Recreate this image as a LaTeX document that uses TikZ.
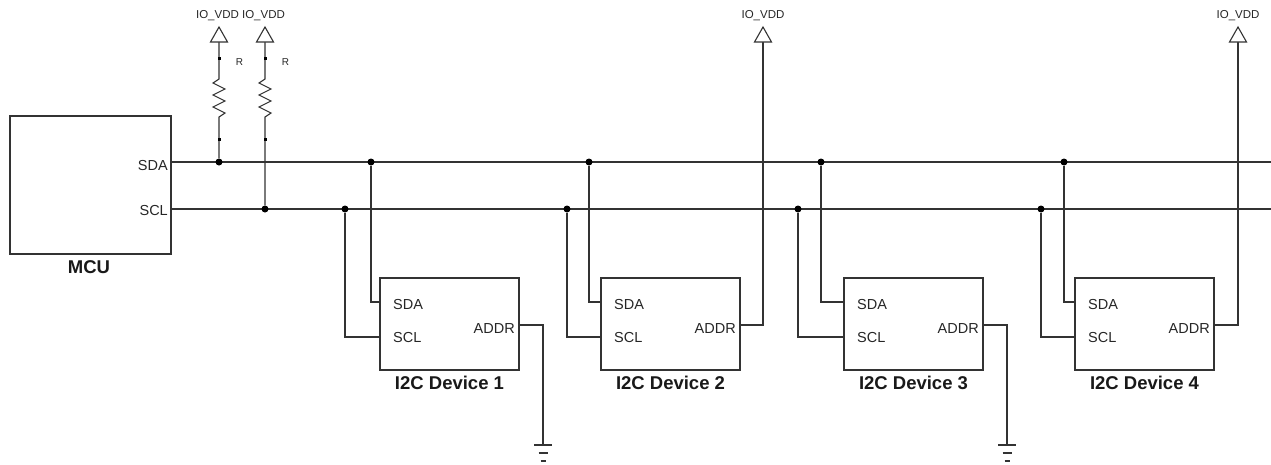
\documentclass[tikz,border=0pt]{standalone}
\usepackage{fontspec}
\setmainfont{Liberation Sans}
\begin{document}
\begin{tikzpicture}[x=1pt,y=-1pt,
  wire/.style={line width=1.1pt, draw=black!80},
  jdot/.style={circle, fill=black, inner sep=0pt, minimum size=7pt},
  pdot/.style={rectangle, fill=black, inner sep=0pt, minimum size=3pt},
  box/.style={draw=black!80, line width=1.1pt, rectangle, inner sep=0pt},
  pinlab/.style={font=\fontsize{14.5}{15}\selectfont, inner sep=0pt, text=black!85},
  titlelab/.style={font=\fontsize{18.5}{19}\selectfont\bfseries, inner sep=0pt, text=black!90},
  vddlab/.style={font=\fontsize{11.5}{12}\selectfont, inner sep=0pt, text=black!85},
  rlab/.style={font=\fontsize{10}{10}\selectfont, inner sep=0pt, text=black!85},
  gndline/.style={line width=1.1pt, draw=black!80}
]
\useasboundingbox (0,0) rectangle (1271,464);

% MCU
\node[box, minimum width=161pt, minimum height=138pt] (mcu) at (90.5,185) {};
\node[titlelab] (mculab) at (89,267) {MCU};
\coordinate (mcusda) at (171,162);
\coordinate (mcuscl) at (171,209);
\node[pinlab, anchor=east] (mcusdal) at (168,166) {SDA};
\node[pinlab, anchor=east] (mcuscll) at (168,210.5) {SCL};

% bus
\coordinate (sdaend) at (1271,162);
\coordinate (sclend) at (1271,209);
\draw[wire] (mcusda) -- (sdaend);
\draw[wire] (mcuscl) -- (sclend);

% pull-up resistors
\foreach \n/\x/\y in {a/219/162, b/265/209}{
  \coordinate (vdd\n) at (\x,42);
  \coordinate (rt\n) at (\x,79);
  \coordinate (rb\n) at (\x,117);
  \node[jdot] (pj\n) at (\x,\y) {};
  \draw[wire] (vdd\n) -- (rt\n)
     -- ++(-6,4) -- ++(12,6) -- ++(-12,6) -- ++(12,6) -- ++(-12,6) -- ++(12,6) -- (rb\n)
     -- (pj\n);
  \draw[wire, fill=white] (\x,27) -- (\x-8.5,42) -- (\x+8.5,42) -- cycle;
  \node[vddlab] (vddl\n) at (\x-1.5,16) {IO\_VDD};
  \node[pdot] (pt\n) at (\x,58) {};
  \node[pdot] (pb\n) at (\x,139) {};
  \node[rlab] (rl\n) at (\x+20.5,62) {R};
}

% devices
\foreach \i/\L/\sa/\sc/\ad/\g in {1/380/371/345/543/1, 2/601/589/567/763/0, 3/844/821/798/1007/1, 4/1075/1064/1041/1238/0}{
  \node[box, minimum width=139pt, minimum height=92pt] (d\i) at (\L+69.5,324) {};
  \node[titlelab] (dl\i) at (\L+69.5,383) {I2C Device \i};
  \coordinate (d\i sda) at (\L,302);
  \coordinate (d\i scl) at (\L,337);
  \coordinate (d\i addr) at (\L+139,325);
  \node[pinlab, anchor=west] (d\i sdal) at (\L+13,304.5) {SDA};
  \node[pinlab, anchor=west] (d\i scll) at (\L+13,338) {SCL};
  \node[pinlab, anchor=east] (d\i addrl) at (\L+135,328.5) {ADDR};
  \node[jdot] (js\i) at (\sa,162) {};
  \node[jdot] (jc\i) at (\sc,209) {};
  \draw[wire] (js\i) |- (d\i sda);
  \draw[wire] (jc\i) |- (d\i scl);
  \ifnum\g=1
    \coordinate (g\i) at (\ad,445);
    \draw[wire] (d\i addr) -| (g\i);
    \draw[gndline] (\ad-9,445) -- (\ad+9,445);
    \draw[gndline] (\ad-4.5,453) -- (\ad+4.5,453);
    \draw[gndline] (\ad-2.5,461) -- (\ad+2.5,461);
  \else
    \coordinate (v\i) at (\ad,42);
    \draw[wire] (d\i addr) -| (v\i);
    \draw[wire, fill=white] (\ad,27) -- (\ad-8.5,42) -- (\ad+8.5,42) -- cycle;
    \node[vddlab] (vl\i) at (\ad,16) {IO\_VDD};
  \fi
}
\end{tikzpicture}
\end{document}
